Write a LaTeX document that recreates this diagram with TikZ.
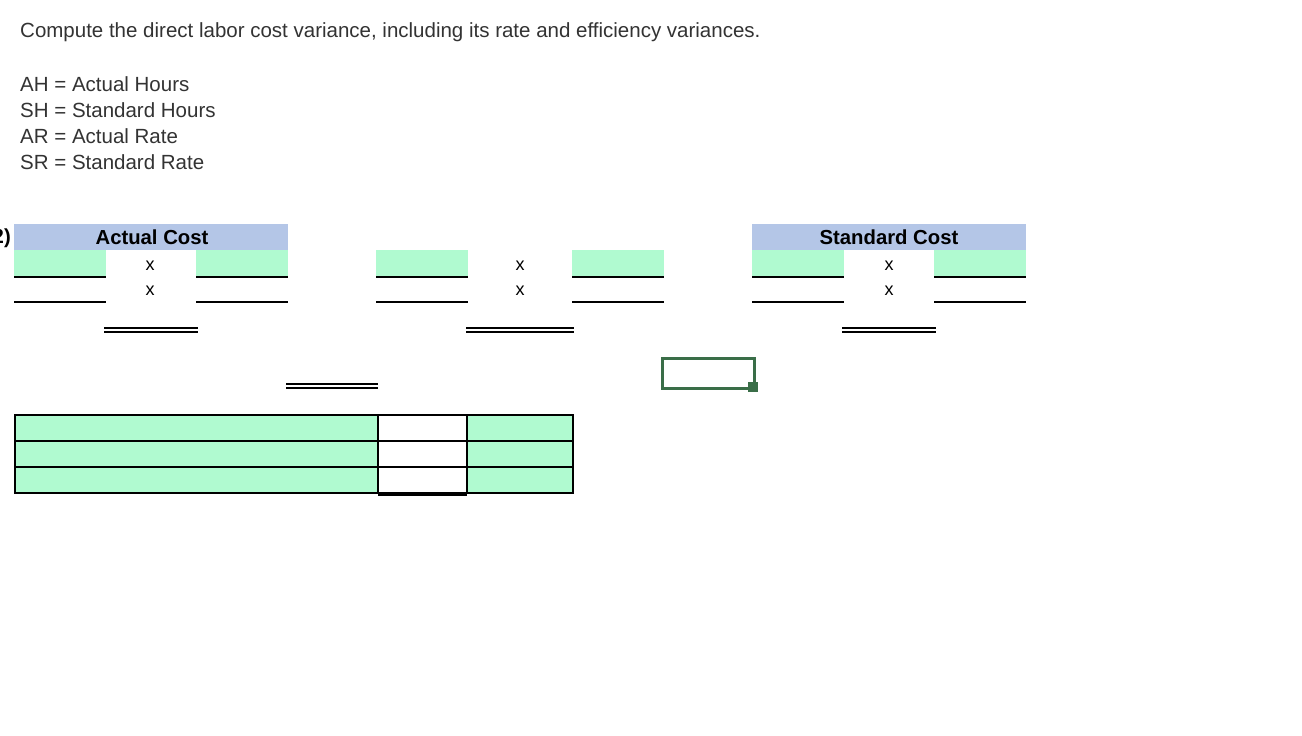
\documentclass[tikz,border=0pt]{standalone}
\usepackage{fontspec}
\setmainfont{Liberation Sans}
\begin{document}
\begin{tikzpicture}[x=1pt,y=-1pt,
  txt/.style={anchor=west,inner sep=0,text=black!80,font=\fontsize{20.5}{22}\selectfont},
  ul/.style={line width=2pt},
  xx/.style={inner sep=0,font=\fontsize{18}{20}\selectfont},
  bold/.style={inner sep=0,font=\fontsize{20.3}{22}\selectfont\bfseries}]
\definecolor{hblue}{HTML}{B4C6E7}
\definecolor{cgreen}{HTML}{B0FAD0}
\definecolor{sel}{HTML}{3A6E48}
\useasboundingbox (0,0) rectangle (1302,736);
\fill[white] (0,0) rectangle (1302,736);
\node[txt] (t) at (20,32) {Compute the direct labor cost variance, including its rate and efficiency variances.};
\node[txt] (l1) at (20,84) {AH = Actual Hours};
\node[txt] (l2) at (20,110) {SH = Standard Hours};
\node[txt] (l3) at (20,136) {AR = Actual Rate};
\node[txt] (l4) at (20,162) {SR = Standard Rate};
\node[bold,anchor=east] (n2) at (11,238) {2)};
% headers
\fill[hblue] (14,224) rectangle (288,250);
\node[bold] (ac) at (152,237) {Actual Cost};
\fill[hblue] (752,224) rectangle (1026,250);
\node[bold] (sc) at (889,237) {Standard Cost};
% three groups
\foreach \a/\b/\c/\d/\m/\e/\f in {14/106/196/288/150/104/198, 376/468/572/664/520/466/574, 752/844/934/1026/889/842/936}{
  \fill[cgreen] (\a,250) rectangle (\b,276);
  \fill[cgreen] (\c,250) rectangle (\d,276);
  \draw[ul] (\a,277) -- (\b,277); \draw[ul] (\c,277) -- (\d,277);
  \draw[ul] (\a,302) -- (\b,302); \draw[ul] (\c,302) -- (\d,302);
  \node[xx] at (\m,266) {x};
  \node[xx] at (\m,291) {x};
  \draw[line width=1.2pt] (\e,328) -- (\f,328);
  \draw[line width=1.2pt] (\e,332) -- (\f,332);
}
\draw[line width=1.2pt] (286,384) -- (378,384);
\draw[line width=1.2pt] (286,388) -- (378,388);
% selected cell
\draw[sel,line width=3pt] (662,358) rectangle (754,388);
\fill[sel] (748,382) rectangle (758,392);
% table
\foreach \y in {415,441,467}{
  \fill[cgreen] (15,\y) rectangle (378,\y+26);
  \fill[cgreen] (467,\y) rectangle (573,\y+26);
  \draw[line width=1.5pt] (15,\y) rectangle (378,\y+26);
  \draw[line width=1.5pt] (378,\y) rectangle (467,\y+26);
  \draw[line width=1.5pt] (467,\y) rectangle (573,\y+26);
}
\draw[line width=1.5pt] (378,495) -- (467,495);
\end{tikzpicture}
\end{document}
